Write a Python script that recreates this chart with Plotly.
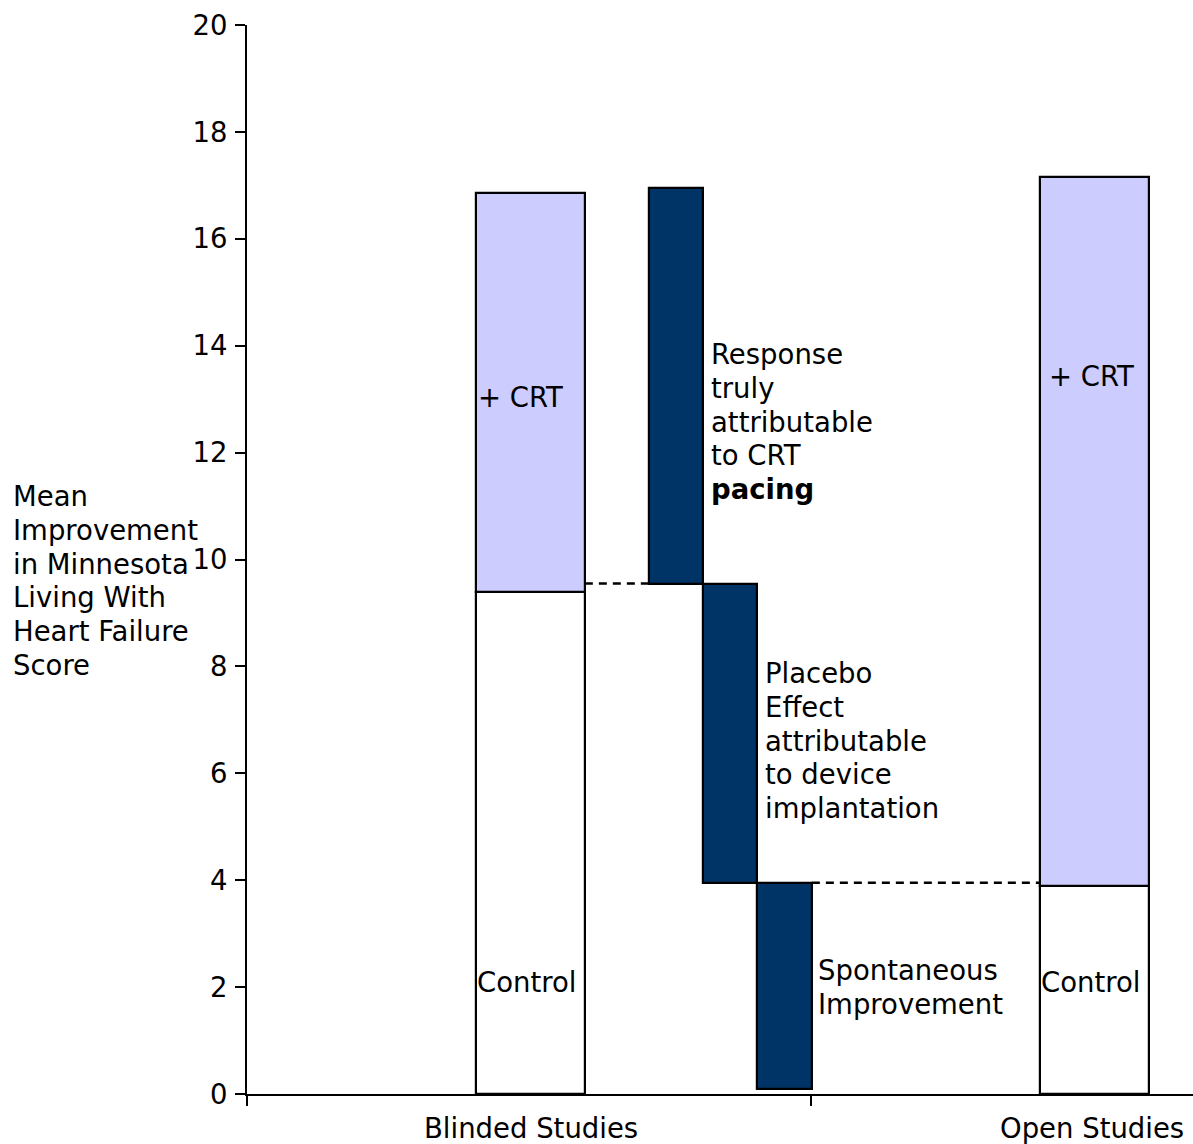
import plotly.graph_objects as go

# Study groups and mean improvement in MLWHF score
categories = ["Blinded Studies", "Open Studies"]
control_scores = [9.4, 3.9]
crt_scores = [16.85, 17.15]

# Decomposition of the blinded CRT response (floating bars: low -> high)
effect_names = ["Response truly attributable to CRT pacing",
                "Placebo effect attributable to device implantation",
                "Spontaneous improvement"]
effect_low = [9.55, 3.95, 0.1]
effect_high = [16.95, 9.55, 3.95]

y_ticks = [0, 2, 4, 6, 8, 10, 12, 14, 16, 18, 20]

FONT = "DejaVu Sans, Verdana, sans-serif"
FSIZE = 27.5
LAVENDER = "#CCCCFF"
NAVY = "#003366"

group_x = [0.5025, 1.502]
group_w = 0.193
effect_x = [0.7605, 0.8565, 0.953]
effect_w = 0.097

# pixel geometry of the plot area
X0, PX = 247.0, 564.0          # x = 0 position and pixels per category
Y0, PY = 1094.0, 53.45         # y = 0 position and pixels per unit
LINE = 33.8                    # text line pitch in pixels

fig = go.Figure()

# Dashed connectors between the levels
dash_style = dict(color="black", width=2.5, dash="8px,6px")
fig.add_trace(go.Scatter(x=[group_x[0] + group_w / 2, effect_x[0] - effect_w / 2],
                         y=[effect_low[0], effect_low[0]], mode="lines",
                         line=dash_style, hoverinfo="skip", showlegend=False))
fig.add_trace(go.Scatter(x=[effect_x[2] + effect_w / 2, group_x[1] - group_w / 2],
                         y=[effect_low[1], effect_low[1]], mode="lines",
                         line=dash_style, hoverinfo="skip", showlegend=False))

outline = dict(color="black", width=2.2)
# Control bars
fig.add_trace(go.Bar(x=group_x, y=control_scores, base=[0, 0], width=[group_w] * 2,
                     marker=dict(color="white", line=outline),
                     name="Control", showlegend=False))
# CRT increment stacked on control
fig.add_trace(go.Bar(x=group_x,
                     y=[c - b for c, b in zip(crt_scores, control_scores)],
                     base=control_scores, width=[group_w] * 2,
                     marker=dict(color=LAVENDER, line=outline),
                     name="+ CRT", showlegend=False))
# Floating decomposition bars
fig.add_trace(go.Bar(x=effect_x,
                     y=[h - l for h, l in zip(effect_high, effect_low)],
                     base=effect_low, width=[effect_w] * 3,
                     marker=dict(color=NAVY, line=outline),
                     hovertext=effect_names, showlegend=False))


def px2x(p):
    return (p - X0) / PX


def py2y(p):
    return (Y0 - p) / PY


annotations = []


def add_lines(lines, left_px, first_center_px, xref="x"):
    """Place left-aligned text one line at a time with a fixed line pitch."""
    for i, ln in enumerate(lines):
        if xref == "x":
            xv = px2x(left_px)
        else:
            xv = (left_px - X0) / 946.0
        annotations.append(dict(text=ln, x=xv, y=py2y(first_center_px + i * LINE),
                                xref=xref, yref="y", xanchor="left", yanchor="middle",
                                align="left", showarrow=False,
                                font=dict(family=FONT, size=FSIZE, color="black")))


add_lines(["+ CRT"], 476, 397)
add_lines(["Control"], 475, 982)
add_lines(["Response", "truly", "attributable", "to CRT", "<b>pacing</b>"], 709, 354)
add_lines(["Placebo", "Effect", "attributable", "to device", "implantation"], 763, 673)
add_lines(["Spontaneous", "Improvement"], 816, 970)
add_lines(["+ CRT"], 1047, 376)
add_lines(["Control"], 1039, 982)

# Axis title, laid out horizontally to the left of the ticks
add_lines(["Mean", "Improvement", "in Minnesota", "Living With", "Heart Failure", "Score"],
          11, 496, xref="paper")

# Category labels under the axis
for cat, xc in zip(categories, [px2x(530.5), px2x(1092)]):
    annotations.append(dict(text=cat, x=xc, y=(Y0 - 1128) / 1069.0, xref="x", yref="paper",
                            xanchor="center", yanchor="middle", showarrow=False,
                            font=dict(family=FONT, size=FSIZE, color="black")))

fig.update_layout(
    width=1193, height=1144,
    margin=dict(l=247, r=0, t=25, b=50),
    paper_bgcolor="white", plot_bgcolor="white",
    barmode="overlay", bargap=0,
    font=dict(family=FONT, size=FSIZE, color="black"),
    annotations=annotations,
    showlegend=False,
)
fig.update_xaxes(range=[0, 946.0 / PX], showgrid=False, zeroline=False,
                 showline=True, linecolor="black", linewidth=2,
                 tickmode="array", tickvals=[0, 1, 2], ticktext=["", "", ""],
                 ticks="outside", ticklen=10, tickwidth=2, tickcolor="black")
fig.update_yaxes(range=[0, 20], showgrid=False, zeroline=False,
                 showline=True, linecolor="black", linewidth=2,
                 tickmode="array", tickvals=y_ticks,
                 ticks="outside", ticklen=10, tickwidth=2, tickcolor="black",
                 ticklabelstandoff=2,
                 tickfont=dict(family=FONT, size=FSIZE, color="black"))

fig.write_html("out.html")
